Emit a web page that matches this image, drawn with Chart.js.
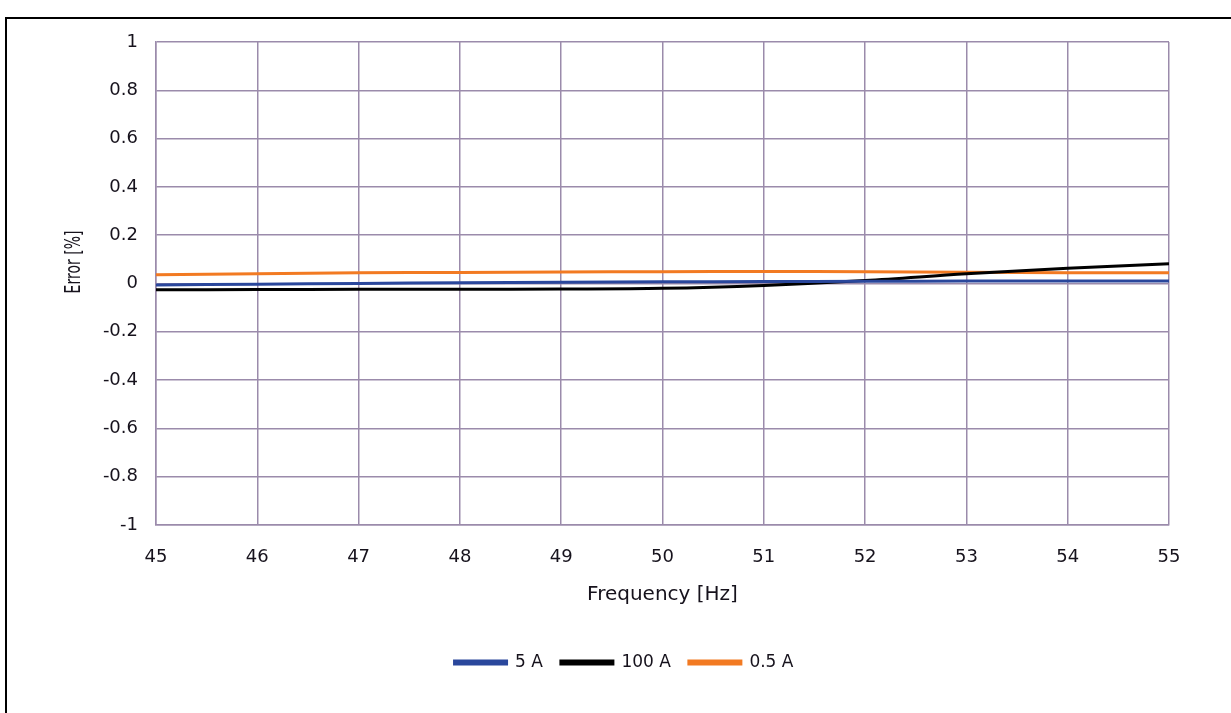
<!DOCTYPE html>
<html>
<head>
<meta charset="utf-8">
<script src="https://cdn.jsdelivr.net/npm/chart.js@4/dist/chart.umd.min.js"></script>
<style>
  html, body { margin: 0; padding: 0; background: #fff; overflow: hidden; }
  #wrap { position: relative; width: 1231px; height: 713px; }
  #frame { position: absolute; left: 5px; top: 17px; width: 1300px; height: 800px;
           border: 2.5px solid #000; pointer-events: none; }
  canvas { position: absolute; left: 0; top: 0; }
</style>
</head>
<body>
<div id="wrap">
  <canvas id="chart" width="1231" height="713"></canvas>
  <div id="frame"></div>
</div>
<script>
const frequencies = [45, 46, 47, 48, 49, 50, 51, 52, 53, 54, 55];
const err5A   = [-0.006, -0.003, 0.000, 0.003, 0.005, 0.007, 0.008, 0.009, 0.010, 0.010, 0.010];
const err100A = [-0.026, -0.025, -0.024, -0.024, -0.023, -0.020, -0.008, 0.012, 0.040, 0.063, 0.082];
const err05A  = [0.036, 0.040, 0.044, 0.046, 0.048, 0.049, 0.050, 0.049, 0.047, 0.045, 0.044];
const seriesLabels = ["5 A", "100 A", "0.5 A"];
const yTickLabels = ["-1", "-0.8", "-0.6", "-0.4", "-0.2", "0", "0.2", "0.4", "0.6", "0.8", "1"];

const textColor = "#16121c";
const gridColor = "#9b8bab";
const font = "'DejaVu Sans', sans-serif";

const toPoints = (ys) => frequencies.map((f, i) => ({ x: f, y: ys[i] }));

// y title is drawn by hand: in the original it sits above the axis centre
// and its glyphs are stretched sideways like the rest of the picture
const yTitle = {
  id: "yTitle",
  afterDraw(chart) {
    const ctx = chart.ctx;
    ctx.save();
    ctx.translate(75, 262);
    ctx.rotate(-Math.PI / 2);
    ctx.scale(1, 1.45);
    ctx.fillStyle = textColor;
    ctx.font = "normal 14px 'DejaVu Sans', sans-serif";
    ctx.textAlign = "center";
    ctx.textBaseline = "middle";
    ctx.fillText("Error [%]", 0, 0);
    ctx.restore();
  }
};

const mk = (label, data, color) => ({
  label, data: toPoints(data),
  borderColor: color, backgroundColor: color,
  borderWidth: 3, pointRadius: 0, tension: 0.35, fill: false
});

new Chart(document.getElementById("chart"), {
  type: "line",
  data: {
    datasets: [
      mk(seriesLabels[0], err5A, "#2a479c"),
      mk(seriesLabels[1], err100A, "#000000"),
      mk(seriesLabels[2], err05A, "#f27a22")
    ]
  },
  plugins: [yTitle],
  options: {
    responsive: false,
    animation: false,
    layout: { padding: { left: 17, top: 42, right: 0, bottom: 32 } },
    plugins: {
      tooltip: { enabled: false },
      legend: {
        position: "bottom",
        labels: {
          color: textColor,
          font: { family: font, size: 17 },
          boxWidth: 52, boxHeight: 3, padding: 18
        }
      }
    },
    scales: {
      x: {
        type: "linear", min: 45, max: 55,
        afterFit(scale) { scale.height = 111; },
        grid: { color: gridColor, lineWidth: 1.5, drawTicks: false },
        border: { color: gridColor, width: 1.5 },
        ticks: { stepSize: 1, padding: 22, color: textColor,
                 font: { family: font, size: 18 } },
        title: { display: true, text: "Frequency [Hz]", color: textColor,
                 font: { family: font, size: 20 }, padding: { top: 0, bottom: 29 } }
      },
      y: {
        min: -1, max: 1,
        afterFit(scale) { scale.width = 139; },
        grid: { color: gridColor, lineWidth: 1.5, drawTicks: false },
        border: { color: gridColor, width: 1.5 },
        ticks: { stepSize: 0.2, padding: 18, color: textColor,
                 font: { family: font, size: 18 },
                 callback: (v, i) => yTickLabels[i] }
      },
      // empty right-hand axis, only reserves the margin right of the plot
      yRight: {
        position: "right", min: -1, max: 1,
        afterFit(scale) { scale.width = 62; },
        grid: { display: false, drawTicks: false },
        border: { display: false },
        ticks: { display: false }
      }
    }
  }
});
</script>
</body>
</html>
